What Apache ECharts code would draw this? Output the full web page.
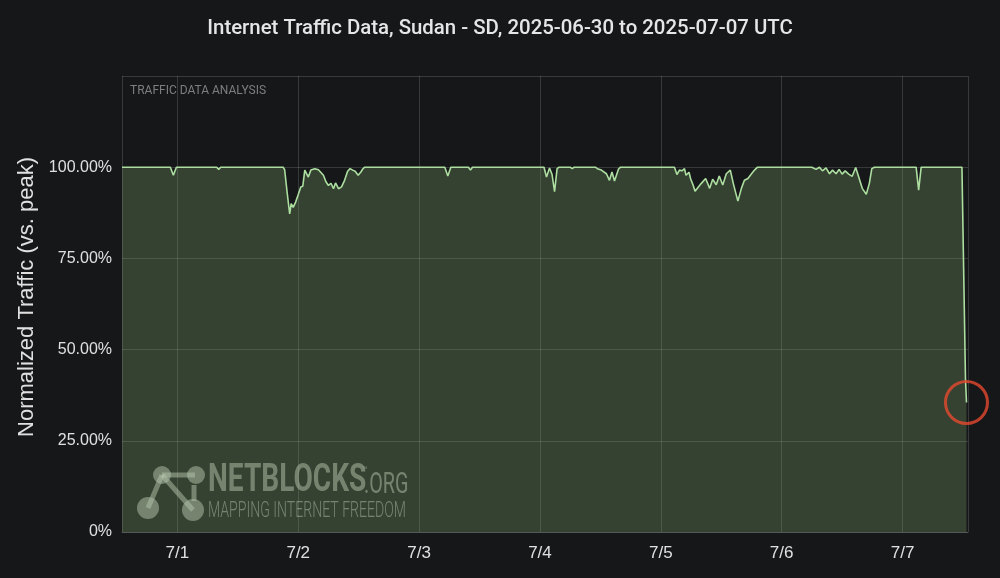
<!DOCTYPE html>
<html>
<head>
<meta charset="utf-8">
<script src="https://cdn.jsdelivr.net/npm/echarts@6/dist/echarts.min.js"></script>
<style>
html,body{margin:0;padding:0;background:#161719;}
#chart{width:1000px;height:578px;}
</style>
</head>
<body>
<div id="chart"></div>
<script>
// Hours since 2025-06-30 00:00 UTC
const hoursUTC = [
  13, 22.6, 23.2, 23.8, 31.8, 32.2, 32.6,
  45.0, 45.3, 45.8, 46.3, 46.6, 47.0, 47.5, 48.0, 48.5, 48.9, 49.3, 49.6, 50.0, 50.5,
  51.3, 52.0, 53.0, 53.5, 54.0, 54.5, 55.0, 55.4, 56.0, 56.6, 57.2, 57.8, 58.3, 58.8,
  59.3, 59.9, 60.4, 60.8, 61.2,
  77.1, 77.7, 78.3, 81.8, 82.2, 82.6,
  96.8, 97.3, 97.9, 98.4, 98.9, 99.4, 99.8, 102.0, 102.4, 102.8,
  107.0, 107.4, 108.2, 109.2, 109.8, 110.3, 110.8, 111.6, 112.0,
  122.7, 123.2, 123.7, 124.2, 124.7, 125.0, 125.6, 125.9, 126.4, 126.8, 127.3, 128.0,
  128.9, 129.7, 130.3, 131.0, 131.6, 132.3, 133.0, 133.8, 134.4, 135.3, 136.0, 136.6,
  137.3, 137.9, 138.6, 139.2,
  150.0, 150.8, 151.5, 152.1, 152.8, 153.5, 154.1, 154.8, 155.4, 156.0, 156.6, 157.3,
  158.0, 158.7, 159.3, 160.0, 160.8, 161.4, 161.9, 162.4,
  170.7, 171.2, 171.7, 179.8, 180.5, 180.7
];
const trafficPct = [
  100, 100, 97.8, 100, 100, 99.4, 100,
  100, 99.3, 93, 87.2, 90, 89, 90.5, 92.5, 94.6, 94.8, 99.2, 99.5, 97.3, 99.2,
  99.6, 99.3, 97.8, 96, 95, 95.6, 94.1, 95.7, 94.1, 94.6, 96.4, 98.9, 99.6, 99.2,
  98.9, 97.8, 98.6, 99.5, 100,
  100, 97.6, 100, 100, 99.2, 100,
  100, 97.3, 99.8, 98, 93.3, 99.6, 100, 100, 99.6, 100,
  100, 99.6, 99.2, 98.2, 96.4, 98.7, 96.2, 99.5, 100,
  100, 98, 99.2, 99, 99.6, 97.8, 98.6, 96.9, 95.1, 93.4, 94.3, 95.5,
  96.9, 94.2, 96.7, 95.2, 97.6, 95.1, 98.2, 99.2, 95.5, 90.7, 94.2, 96.4,
  96.9, 98, 99.2, 100,
  100, 99.4, 100, 99, 99.8, 98.2, 99.2, 98.2, 99.4, 98.1, 99, 98.1,
  97.5, 99.9, 97.3, 94.2, 92.6, 95.5, 99.6, 100,
  100, 93.7, 100, 100, 42, 35.5
];
const yTicks = [0, 25, 50, 75, 100, 125];
const axisStartHour = 13, axisEndHour = 181;

const base = Date.UTC(2025, 5, 30, 0, 0, 0);
const H = 3600 * 1000;
const seriesData = hoursUTC.map((h, i) => [base + h * H, trafficPct[i]]);
const last = seriesData[seriesData.length - 1];

const chart = echarts.init(document.getElementById('chart'));
const wm = 'rgba(205,212,200,0.5)';
const labelFont = 'Liberation Sans';
chart.setOption({
  useUTC: true,
  backgroundColor: '#161719',
  animation: false,
  title: {
    text: 'Internet Traffic Data, Sudan - SD, 2025-06-30 to 2025-07-07 UTC',
    left: 'center', top: 14,
    textStyle: {color: '#e6e6e6', fontSize: 20.4, fontWeight: 500, fontFamily: 'Roboto'}
  },
  grid: {left: 122, right: 32, top: 76, bottom: 46},
  xAxis: {
    type: 'time',
    min: base + axisStartHour * H,
    max: base + axisEndHour * H,
    minInterval: 24 * H, maxInterval: 24 * H,
    axisLine: {show: true, lineStyle: {color: 'rgba(255,255,255,0.16)'}},
    axisTick: {show: false},
    splitLine: {show: true, lineStyle: {color: 'rgba(255,255,255,0.15)', width: 1}},
    axisLabel: {
      color: '#e0e0e0', fontSize: 17, fontFamily: labelFont, margin: 13,
      formatter: v => { const d = new Date(v); return (d.getUTCMonth() + 1) + '/' + d.getUTCDate(); }
    }
  },
  yAxis: {
    type: 'value', min: 0, max: 125, interval: 25,
    name: 'Normalized Traffic (vs. peak)',
    nameLocation: 'middle', nameGap: 83,
    nameTextStyle: {color: '#e0e0e0', fontSize: 22, fontFamily: labelFont, padding: [0, 0, 0, 14]},
    axisLine: {show: false}, axisTick: {show: false},
    splitLine: {show: true, lineStyle: {color: 'rgba(255,255,255,0.15)', width: 1}},
    axisLabel: {
      color: '#e0e0e0', fontSize: 16, fontFamily: labelFont, margin: 10,
      formatter: v => v > 100 ? '' : (v === 0 ? '0%' : v.toFixed(2) + '%')
    }
  },
  graphic: [
    {type: 'text', left: 130, top: 85, style: {text: 'TRAFFIC DATA ANALYSIS', fill: '#7e7e7e', fontSize: 12, fontFamily: 'Roboto'}},
    {type: 'group', x: 138, y: 465, children: [
      {type: 'line', shape: {x1: 24, y1: 10, x2: 57, y2: 10}, style: {stroke: wm, lineWidth: 5}},
      {type: 'line', shape: {x1: 24, y1: 10, x2: 10, y2: 43}, style: {stroke: wm, lineWidth: 5}},
      {type: 'line', shape: {x1: 24, y1: 10, x2: 55, y2: 45}, style: {stroke: wm, lineWidth: 5}},
      {type: 'line', shape: {x1: 56, y1: 20, x2: 56, y2: 36}, style: {stroke: wm, lineWidth: 5}},
      {type: 'circle', shape: {cx: 24, cy: 10, r: 9}, style: {fill: wm}},
      {type: 'circle', shape: {cx: 58, cy: 10, r: 9}, style: {fill: wm}},
      {type: 'circle', shape: {cx: 10, cy: 43, r: 11}, style: {fill: wm}},
      {type: 'circle', shape: {cx: 55, cy: 45, r: 11}, style: {fill: wm}}
    ]},
    {type: 'text', x: 208, y: 462, scaleX: 0.72, style: {text: 'NETBLOCKS', fill: wm, fontSize: 39, fontWeight: 'bold', fontFamily: 'Roboto'}},
    {type: 'text', x: 362, y: 466, scaleX: 0.8, style: {text: '™', fill: wm, fontSize: 11, fontFamily: 'Roboto'}},
    {type: 'text', x: 364, y: 470, scaleX: 0.66, style: {text: '.ORG', fill: wm, fontSize: 30, fontFamily: 'Roboto'}},
    {type: 'text', x: 208, y: 500, scaleX: 0.64, style: {text: 'MAPPING INTERNET FREEDOM', fill: wm, fontSize: 22, fontWeight: 300, fontFamily: 'Roboto'}}
  ],
  series: [
    {
      type: 'line', data: seriesData, symbol: 'none', smooth: false,
      lineStyle: {color: '#acdea0', width: 1.6},
      areaStyle: {color: 'rgba(125,165,108,0.3)', opacity: 1, origin: 'start'},
      z: 2
    },
    {
      type: 'scatter', data: [last], symbol: 'circle', symbolSize: 42, clip: false,
      itemStyle: {color: 'rgba(0,0,0,0)', borderColor: '#e5482e', borderWidth: 3},
      silent: true, z: 5
    }
  ]
});
</script>
</body>
</html>
